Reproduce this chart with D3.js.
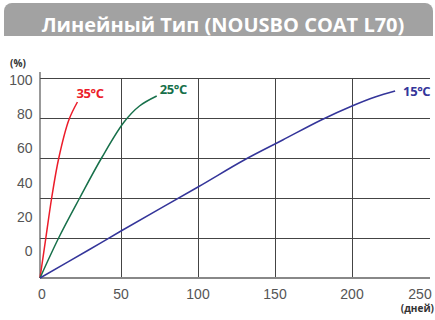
<!DOCTYPE html>
<html>
<head>
<meta charset="utf-8">
<script src="https://cdn.jsdelivr.net/npm/d3@7"></script>
<style>
  body { margin: 0; background: #fff; }
  #chart { width: 435px; height: 320px; }
</style>
</head>
<body>
<div id="chart"></div>
<script>
// Chart data
const titleText = "Линейный Тип (NOUSBO COAT L70)";
const xTicks = [0, 50, 100, 150, 200, 250];
const yTicks = [0, 20, 40, 60, 80, 100];
const yTickLabels = ["0", "20", "40", "60", "80", "100"];

const series35 = [[0, 0], [3.6, 20], [7.2, 40], [11.6, 60], [17.8, 79], [23.1, 88]];
const series25 = [[0, 0], [11.5, 20], [24.5, 40], [38, 60], [52, 78], [62, 86], [73.2, 91]];
const series15 = [[0, 0], [30, 14], [50, 23.5], [100, 45.5], [130, 59], [155, 69], [180, 79], [200, 86], [215, 90.5], [228, 93.5]];

const seriesNames = ["35°C", "25°C", "15°C"];
const seriesColors = ["#ec1c2a", "#17704a", "#34359a"];

const width = 435, height = 320;

const svg = d3.select("#chart")
  .append("svg")
  .attr("width", width)
  .attr("height", height);

// Title tab
const tabPath = d3.path();
tabPath.moveTo(4, 36);
tabPath.lineTo(4, 11);
tabPath.arcTo(4, 3, 12, 3, 8);
tabPath.lineTo(425, 3);
tabPath.arcTo(433, 3, 433, 11, 8);
tabPath.lineTo(433, 36);
tabPath.closePath();
svg.append("path").attr("d", tabPath.toString()).attr("fill", "#a2a2a2");

svg.append("text")
  .attr("x", 223)
  .attr("y", 32)
  .attr("text-anchor", "middle")
  .attr("font-family", "'Open Sans', sans-serif")
  .attr("font-weight", "bold")
  .attr("font-size", 20)
  .attr("fill", "#fff")
  .text(titleText);

// Scales (the x axis is not quite even in the original)
const x = d3.scaleLinear().domain([0, 50, 250]).range([40, 121, 429]);
const y = d3.scaleLinear().domain([0, 100]).range([278, 78]);
// tick labels sit on their own spacing in the original
const yLabel = d3.scaleLinear().domain([0, 100]).range([251, 80]);

// Grid
svg.append("g")
  .selectAll("line")
  .data(yTicks.slice(1))
  .enter()
  .append("line")
  .attr("x1", x(0))
  .attr("x2", 430)
  .attr("y1", d => Math.round(y(d)) + 0.5)
  .attr("y2", d => Math.round(y(d)) + 0.5)
  .attr("stroke", "#444")
  .attr("stroke-width", 1);

svg.append("g")
  .selectAll("line")
  .data(xTicks.slice(1, -1))
  .enter()
  .append("line")
  .attr("x1", d => Math.round(x(d)) + 0.5)
  .attr("x2", d => Math.round(x(d)) + 0.5)
  .attr("y1", y(100))
  .attr("y2", y(0))
  .attr("stroke", "#444")
  .attr("stroke-width", 1);

// Axes lines
svg.append("line")
  .attr("x1", x(0)).attr("x2", x(0))
  .attr("y1", 72).attr("y2", y(0))
  .attr("stroke", "#555").attr("stroke-width", 1.2);

svg.append("line")
  .attr("x1", x(0)).attr("x2", 430)
  .attr("y1", y(0)).attr("y2", y(0))
  .attr("stroke", "#888").attr("stroke-width", 2);

// Tick labels
svg.append("g")
  .selectAll("text")
  .data(xTicks)
  .enter()
  .append("text")
  .attr("x", d => d === 250 ? 420 : x(d) + (d === 0 ? 2 : 0))
  .attr("y", 299)
  .attr("text-anchor", "middle")
  .attr("font-family", "'Liberation Sans', Arial, sans-serif")
  .attr("font-size", 14)
  .attr("fill", "#555")
  .text(d => d);

svg.append("g")
  .selectAll("text")
  .data(yTicks)
  .enter()
  .append("text")
  .attr("x", 32.5)
  .attr("y", d => yLabel(d))
  .attr("dy", "0.36em")
  .attr("text-anchor", "end")
  .attr("font-family", "'Liberation Sans', Arial, sans-serif")
  .attr("font-size", 14)
  .attr("fill", "#555")
  .text((d, i) => yTickLabels[i]);

// Unit labels
svg.append("text")
  .attr("x", 10).attr("y", 67)
  .attr("font-family", "'Open Sans', sans-serif")
  .attr("font-weight", "bold")
  .attr("font-size", 10)
  .attr("fill", "#333")
  .text("(%)");

svg.append("text")
  .attr("x", 434).attr("y", 312)
  .attr("text-anchor", "end")
  .attr("font-family", "'Open Sans', sans-serif")
  .attr("font-weight", "bold")
  .attr("font-size", 10)
  .attr("fill", "#333")
  .text("(дней)");

// Curves
const line = d3.line()
  .x(d => x(d[0]))
  .y(d => y(d[1]))
  .curve(d3.curveCatmullRom.alpha(0.5));

const allSeries = [series35, series25, series15];
const labelOffsets = [[-1, -4], [3, -2], [8, 5]];

allSeries.forEach((s, i) => {
  svg.append("path")
    .datum(s)
    .attr("d", line)
    .attr("fill", "none")
    .attr("stroke", seriesColors[i])
    .attr("stroke-width", 1.5);

  const last = s[s.length - 1];
  svg.append("text")
    .attr("x", x(last[0]) + labelOffsets[i][0])
    .attr("y", y(last[1]) + labelOffsets[i][1])
    .attr("font-family", "'Open Sans', sans-serif")
    .attr("font-weight", "bold")
    .attr("font-size", 13)
    .attr("letter-spacing", -0.4)
    .attr("fill", seriesColors[i])
    .text(seriesNames[i]);
});
</script>
</body>
</html>
